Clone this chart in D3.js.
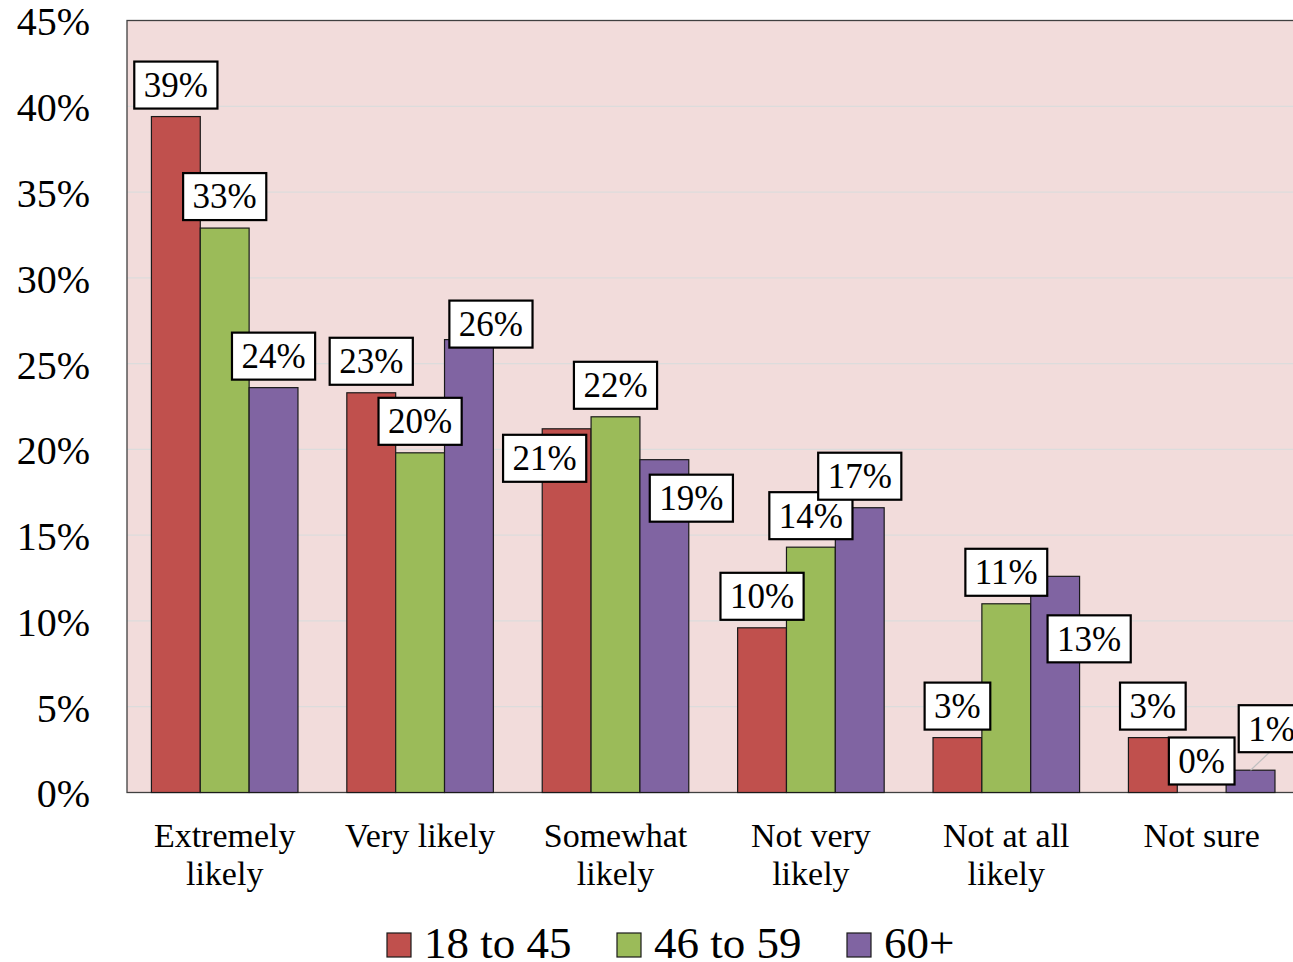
<!DOCTYPE html>
<html>
<head>
<meta charset="utf-8">
<script src="https://cdn.jsdelivr.net/npm/d3@7"></script>
<style>
  html, body { margin: 0; padding: 0; background: #ffffff; }
  svg { display: block; }
  text { font-family: "Liberation Serif", "Times New Roman", serif; fill: #000; }
</style>
</head>
<body>
<svg id="chart" width="1293" height="962"></svg>
<script>
// ---- data ----
const categories = ["Extremely likely", "Very likely", "Somewhat likely", "Not very likely", "Not at all likely", "Not sure"];
const categoryLines = [["Extremely", "likely"], ["Very likely"], ["Somewhat", "likely"], ["Not very", "likely"], ["Not at all", "likely"], ["Not sure"]];
const seriesNames = ["18 to 45", "46 to 59", "60+"];
const age18to45 = [39.4, 23.3, 21.2, 9.6, 3.2, 3.2];
const age46to59 = [32.9, 19.8, 21.9, 14.3, 11.0, 0.0];
const age60plus = [23.6, 26.4, 19.4, 16.6, 12.6, 1.3];
const yTicks = [0, 5, 10, 15, 20, 25, 30, 35, 40, 45];
// manual label nudges (pixels) per [category][series], as placed in the original
const labelNudges = [
  [[0, 0], [0, 0], [0, 0]],
  [[0, 0], [0, 0], [22, 16]],
  [[-22, 61], [0, 0], [27, 70]],
  [[0, 0], [0, 0], [0, 0]],
  [[0, 0], [0, 0], [34, 94]],
  [[0, 0], [0, 0], [21, -10]]
];

const seriesValues = [age18to45, age46to59, age60plus];
const colors = ["#c0504d", "#9bbb59", "#8064a2"];

const svg = d3.select("#chart");
const plot = { left: 127, top: 20.5, bottom: 792.5, right: 1299.4 };

const x0 = d3.scaleBand().domain(categories).range([plot.left, plot.right]).paddingInner(0.25).paddingOuter(0.125);
const x1 = d3.scaleBand().domain(seriesNames).range([0, x0.bandwidth()]).padding(0);
const y = d3.scaleLinear().domain([0, 45]).range([plot.bottom, plot.top]);

// plot background
svg.append("rect")
  .attr("x", plot.left).attr("y", plot.top)
  .attr("width", plot.right - plot.left).attr("height", plot.bottom - plot.top)
  .attr("fill", "#f2dcdb");

// gridlines
svg.append("g").selectAll("line").data(yTicks.filter(d => d > 0 && d < 45)).join("line")
  .attr("x1", plot.left).attr("x2", plot.right)
  .attr("y1", d => y(d)).attr("y2", d => y(d))
  .attr("stroke", "#dcdcdc").attr("stroke-width", 1.2);

// plot border
svg.append("rect")
  .attr("x", plot.left).attr("y", plot.top)
  .attr("width", plot.right - plot.left).attr("height", plot.bottom - plot.top)
  .attr("fill", "none").attr("stroke", "#404040").attr("stroke-width", 1.3);

// y axis
const yAxis = d3.axisLeft(y).tickValues(yTicks).tickFormat(d => d + "%").tickSize(0).tickPadding(37);
const yg = svg.append("g").attr("transform", `translate(${plot.left},0)`).call(yAxis);
yg.select(".domain").remove();
yg.selectAll("text").attr("font-size", 40).attr("font-family", "Liberation Serif").attr("fill", "#000").attr("dy", "0.36em");

// bars
const groups = svg.append("g").selectAll("g").data(categories).join("g")
  .attr("transform", d => `translate(${x0(d)},0)`);

groups.selectAll("rect").data((c, ci) => seriesNames.map((s, si) => ({ c, ci, s, si, v: seriesValues[si][ci] })))
  .join("rect")
  .attr("x", d => x1(d.s))
  .attr("y", d => y(d.v))
  .attr("width", x1.bandwidth())
  .attr("height", d => plot.bottom - y(d.v))
  .attr("fill", (d) => colors[d.si])
  .attr("stroke", "#1a1a1a").attr("stroke-width", 1.2);

// data labels
const labelG = svg.append("g");
categories.forEach((c, ci) => {
  seriesNames.forEach((s, si) => {
    const v = seriesValues[si][ci];
    const cx = x0(c) + x1(s) + x1.bandwidth() / 2;
    const top = y(v);
    const [dx, dy] = labelNudges[ci][si];
    const boxH = 47;
    const bx = cx + dx;
    const bBottom = top - 8 + dy;
    const g = labelG.append("g");
    const t = g.append("text")
      .attr("x", bx).attr("y", bBottom - boxH / 2)
      .attr("text-anchor", "middle").attr("dy", "0.34em")
      .attr("font-size", 35)
      .text(Math.round(v) + "%");
    const w = t.node().getComputedTextLength() + 19;
    if (ci === 5 && si === 2) {
      // leader line
      g.insert("line", "text")
        .attr("x1", bx - 2).attr("y1", bBottom)
        .attr("x2", cx).attr("y2", top)
        .attr("stroke", "#bfbfbf").attr("stroke-width", 1.2);
    }
    g.insert("rect", "text")
      .attr("x", bx - w / 2).attr("y", bBottom - boxH)
      .attr("width", w).attr("height", boxH)
      .attr("fill", "#fff").attr("stroke", "#000").attr("stroke-width", 2.2);
  });
});

// category labels
const catG = svg.append("g");
categories.forEach((c, ci) => {
  const cx = x0(c) + x0.bandwidth() / 2;
  categoryLines[ci].forEach((line, li) => {
    catG.append("text")
      .attr("x", cx).attr("y", 847 + li * 38)
      .attr("text-anchor", "middle")
      .attr("font-size", 34)
      .text(line);
  });
});

// legend
const legendG = svg.append("g");
const legendX = [387, 617, 847];
seriesNames.forEach((s, si) => {
  legendG.append("rect")
    .attr("x", legendX[si]).attr("y", 933).attr("width", 24).attr("height", 24)
    .attr("fill", colors[si]).attr("stroke", "#1a1a1a").attr("stroke-width", 1.2);
  legendG.append("text")
    .attr("x", legendX[si] + 37).attr("y", 958)
    .attr("font-size", 45)
    .text(s);
});
</script>
</body>
</html>
